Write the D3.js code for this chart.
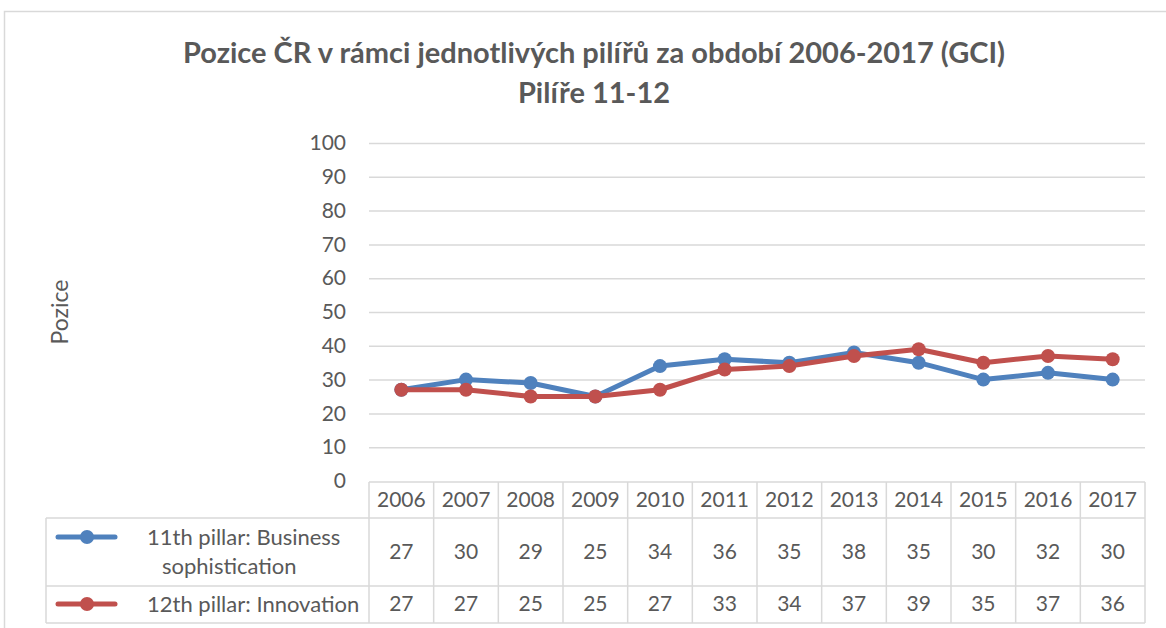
<!DOCTYPE html>
<html>
<head>
<meta charset="utf-8">
<script src="https://cdn.jsdelivr.net/npm/d3@7"></script>
<style>
  body { margin: 0; background: #fff; }
  svg text { font-family: Lato, "Open Sans", sans-serif; fill: #595959; }
</style>
</head>
<body>
<div id="chart"></div>
<script>
// data
var years = ["2006", "2007", "2008", "2009", "2010", "2011", "2012", "2013", "2014", "2015", "2016", "2017"];
var business = [27, 30, 29, 25, 34, 36, 35, 38, 35, 30, 32, 30];
var innovation = [27, 27, 25, 25, 27, 33, 34, 37, 39, 35, 37, 36];
var seriesNames = [["11th pillar: Business", "sophistication"], ["12th pillar: Innovation"]];
var yTicks = [0, 10, 20, 30, 40, 50, 60, 70, 80, 90, 100];

var width = 1166, height = 628;
var grid = "#d9d9d9";
var colors = ["#4f81bd", "#c0504d"];

var svg = d3.select("#chart").append("svg")
    .attr("width", width)
    .attr("height", height);

// outer chart frame, runs off the right/bottom edge like the reference
svg.append("rect")
    .attr("x", 4.5).attr("y", 11.5)
    .attr("width", 1200).attr("height", 700)
    .attr("fill", "none").attr("stroke", grid).attr("stroke-width", 1.5);

// title
svg.append("text")
    .attr("x", 594).attr("y", 63)
    .attr("text-anchor", "middle")
    .style("font-size", "29px").style("font-weight", "bold")
    .text("Pozice ČR v rámci jednotlivých pilířů za období 2006-2017 (GCI)");
svg.append("text")
    .attr("x", 594).attr("y", 103)
    .attr("text-anchor", "middle")
    .style("font-size", "29px").style("font-weight", "bold")
    .text("Pilíře 11-12");

var x = d3.scaleBand().domain(years).range([369, 1145]);
var y = d3.scaleLinear().domain([0, 100]).range([481, 143]);

// gridlines
svg.append("g").selectAll("line")
    .data(yTicks.filter(function (d) { return d > 0; }))
    .enter().append("line")
    .attr("x1", 369).attr("x2", 1145)
    .attr("y1", function (d) { return y(d) + 0.5; })
    .attr("y2", function (d) { return y(d) + 0.5; })
    .attr("stroke", grid).attr("stroke-width", 1.5);

// y axis labels
var yAxis = svg.append("g")
    .attr("transform", "translate(349,0)")
    .call(d3.axisLeft(y).tickValues(yTicks).tickSize(0).tickPadding(3));
yAxis.select(".domain").remove();
yAxis.selectAll("text")
    .style("font-size", "21px")
    .attr("fill", "#595959")
    .attr("font-family", "Lato");

svg.append("text")
    .attr("transform", "translate(68,312) rotate(-90)")
    .attr("text-anchor", "middle")
    .style("font-size", "23px")
    .text("Pozice");

// lines
var line = d3.line()
    .x(function (d, i) { return x(years[i]) + x.bandwidth() / 2; })
    .y(function (d) { return y(d); });

[business, innovation].forEach(function (vals, k) {
    var g = svg.append("g");
    g.append("path")
        .datum(vals)
        .attr("d", line)
        .attr("fill", "none")
        .attr("stroke", colors[k])
        .attr("stroke-width", 5)
        .attr("stroke-linejoin", "round");
    g.selectAll("circle")
        .data(vals).enter().append("circle")
        .attr("cx", function (d, i) { return x(years[i]) + x.bandwidth() / 2; })
        .attr("cy", function (d) { return y(d); })
        .attr("r", 7)
        .attr("fill", colors[k]);
});

// data table
var rowTop = [482, 518, 586];
var rowBottom = [518, 586, 623];
var tbl = svg.append("g").attr("stroke", grid).attr("stroke-width", 1.5).attr("fill", "none");

// horizontal lines
tbl.append("line").attr("x1", 369).attr("x2", 1145).attr("y1", rowTop[0]).attr("y2", rowTop[0]);
tbl.append("line").attr("x1", 46).attr("x2", 1145).attr("y1", rowTop[1]).attr("y2", rowTop[1]);
tbl.append("line").attr("x1", 46).attr("x2", 1145).attr("y1", rowTop[2]).attr("y2", rowTop[2]);
tbl.append("line").attr("x1", 46).attr("x2", 1145).attr("y1", rowBottom[2]).attr("y2", rowBottom[2]);
// vertical lines
tbl.append("line").attr("x1", 46).attr("x2", 46).attr("y1", rowTop[1]).attr("y2", rowBottom[2]);
years.forEach(function (yr) {
    tbl.append("line").attr("x1", x(yr)).attr("x2", x(yr)).attr("y1", rowTop[0]).attr("y2", rowBottom[2]);
});
tbl.append("line").attr("x1", 1145).attr("x2", 1145).attr("y1", rowTop[0]).attr("y2", rowBottom[2]);

// header row
svg.append("g").selectAll("text")
    .data(years).enter().append("text")
    .attr("x", function (d) { return x(d) + x.bandwidth() / 2; })
    .attr("y", 500)
    .attr("dy", "0.35em")
    .attr("text-anchor", "middle")
    .style("font-size", "21px")
    .text(function (d) { return d; });

// value rows
var rowMid = [552, 604];
[business, innovation].forEach(function (vals, k) {
    svg.append("g").selectAll("text")
        .data(vals).enter().append("text")
        .attr("x", function (d, i) { return x(years[i]) + x.bandwidth() / 2; })
        .attr("y", rowMid[k])
        .attr("dy", "0.35em")
        .attr("text-anchor", "middle")
        .style("font-size", "21px")
        .text(function (d) { return d; });
});

// legend keys inside the table
var keyY = [537, 604];
colors.forEach(function (c, k) {
    svg.append("line")
        .attr("x1", 58).attr("x2", 115)
        .attr("y1", keyY[k]).attr("y2", keyY[k])
        .attr("stroke", c).attr("stroke-width", 5).attr("stroke-linecap", "round");
    svg.append("circle")
        .attr("cx", 87).attr("cy", keyY[k]).attr("r", 7).attr("fill", c);
});

// legend labels
svg.append("text").attr("x", 147).attr("y", 537).attr("dy", "0.35em")
    .style("font-size", "22px").text(seriesNames[0][0]);
svg.append("text").attr("x", 162).attr("y", 566).attr("dy", "0.35em")
    .style("font-size", "22px").text(seriesNames[0][1]);
svg.append("text").attr("x", 147).attr("y", 604).attr("dy", "0.35em")
    .style("font-size", "22px").text(seriesNames[1][0]);
</script>
</body>
</html>
